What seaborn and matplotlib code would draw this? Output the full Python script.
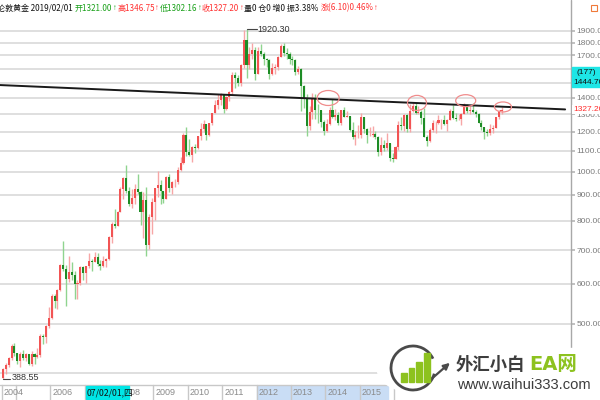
import numpy as np
import pandas as pd
import matplotlib
matplotlib.use("Agg")
import matplotlib.pyplot as plt
import seaborn as sns
from matplotlib.patches import Ellipse, Rectangle, Circle, Arc, FancyArrowPatch
from matplotlib.lines import Line2D
from matplotlib.transforms import IdentityTransform
from matplotlib.ticker import NullLocator

# monthly London gold candles, 2004/08 .. 2019/02
start_month = "2004-08-01"

opens = [
    391.4, 407.3, 415.7, 428.4, 452.5,                                       # 2004
    438.0, 422.2, 435.5, 428.6, 435.8, 417.2, 435.5, 429.8, 433.2, 473.2, 470.8, 495.7,  # 2005
    513.0, 568.8, 556.0, 582.5, 654.5, 643.0, 614.5, 633.0, 624.0, 599.0, 603.0, 647.0,  # 2006
    632, 650, 665, 663, 678, 658, 650, 666, 673, 743, 789, 783,              # 2007
    834, 923, 971, 916, 865, 886, 926, 912, 833, 880, 718, 814,              # 2008
    870, 927, 942, 916, 884, 979, 927, 954, 955, 1008, 1040, 1181,           # 2009
    1096, 1081, 1118, 1113, 1179, 1213, 1244, 1181, 1248, 1307, 1358, 1386,  # 2010
    1421, 1332, 1409, 1439, 1556, 1536, 1501, 1628, 1826, 1624, 1714, 1746,  # 2011
    1563, 1737, 1710, 1669, 1664, 1560, 1605, 1615, 1687, 1772, 1719, 1712,  # 2012
    1675, 1663, 1578, 1596, 1476, 1393, 1234, 1312, 1396, 1327, 1323, 1253,  # 2013
    1202, 1244, 1326, 1284, 1295, 1250, 1327, 1282, 1287, 1210, 1172, 1183,  # 2014
    1184, 1284, 1213, 1183, 1183, 1190, 1172, 1095, 1132, 1115, 1142, 1065,  # 2015
    1061, 1118, 1238, 1233, 1293, 1214, 1321, 1351, 1309, 1316, 1277, 1173,  # 2016
    1151, 1211, 1249, 1249, 1268, 1268, 1242, 1269, 1322, 1280, 1271, 1275,  # 2017
    1303, 1345, 1318, 1325, 1315, 1299, 1252, 1224, 1201, 1192, 1215, 1222,  # 2018
    1282, 1321.00,                                                           # 2019
]
highs = [
    409.7, 419.0, 430.9, 456.9, 458.0,
    438.5, 440.4, 444.3, 438.0, 436.0, 443.1, 437.9, 447.2, 476.7, 478.8, 497.0, 541.0,
    572.0, 574.2, 587.0, 656.0, 730.0, 653.0, 683.0, 663.0, 636.0, 610.0, 650.0, 652.0,
    652, 691, 673, 693, 692, 670, 682, 675, 747, 795, 845, 838,
    932, 975, 1033, 933, 925, 945, 988, 918, 913, 935, 825, 888,
    930, 1006, 965, 918, 980, 990, 961, 968, 1024, 1070, 1195, 1227,
    1162, 1127, 1136, 1180, 1249, 1265, 1245, 1250, 1308, 1388, 1425, 1432,
    1424, 1411, 1447, 1575, 1577, 1552, 1633, 1912, 1920.30, 1763, 1802, 1764,
    1764, 1791, 1725, 1677, 1669, 1641, 1634, 1692, 1790, 1796, 1755, 1723,
    1695, 1675, 1617, 1606, 1488, 1424, 1348, 1434, 1424, 1361, 1323, 1267,
    1270, 1345, 1392, 1331, 1315, 1326, 1345, 1322, 1290, 1255, 1207, 1239,
    1307, 1286, 1219, 1224, 1232, 1205, 1175, 1170, 1157, 1191, 1142, 1088,
    1125, 1263, 1283, 1304, 1304, 1362, 1375, 1367, 1352, 1325, 1338, 1181,
    1220, 1264, 1263, 1295, 1272, 1296, 1274, 1331, 1357, 1306, 1299, 1306,
    1366, 1361, 1356, 1366, 1326, 1309, 1265, 1225, 1214, 1243, 1237, 1284,
    1326, 1346.75,
]
lows = [
    388.55, 398.5, 411.7, 424.4, 431.2,
    416.3, 410.3, 423.9, 421.9, 414.5, 413.2, 416.6, 429.0, 431.1, 456.6, 458.3, 489.9,
    512.0, 538.0, 535.0, 580.0, 636.0, 543.0, 605.0, 610.0, 561.0, 560.0, 596.0, 610.0,
    604, 645, 637, 662, 651, 640, 647, 648, 670, 722, 775, 780,
    834, 882, 910, 857, 849, 863, 906, 786, 740, 681, 705, 752,
    802, 891, 865, 866, 883, 913, 904, 933, 945, 1003, 1038, 1075,
    1073, 1044, 1088, 1112, 1158, 1201, 1157, 1177, 1240, 1305, 1330, 1359,
    1309, 1325, 1380, 1423, 1462, 1478, 1478, 1603, 1535, 1600, 1671, 1523,
    1561, 1693, 1627, 1613, 1527, 1556, 1563, 1590, 1685, 1694, 1672, 1635,
    1625, 1555, 1565, 1321, 1338, 1180, 1208, 1270, 1272, 1251, 1227, 1182,
    1200, 1239, 1277, 1268, 1240, 1240, 1281, 1281, 1206, 1161, 1131, 1168,
    1167, 1191, 1142, 1175, 1170, 1162, 1077, 1080, 1098, 1106, 1052, 1046,
    1060, 1107, 1208, 1207, 1200, 1200, 1311, 1301, 1304, 1241, 1171, 1123,
    1146, 1200, 1195, 1243, 1214, 1236, 1205, 1267, 1272, 1261, 1264, 1236,
    1302, 1307, 1303, 1310, 1282, 1251, 1211, 1160, 1180, 1183, 1196, 1221,
    1275, 1302.16,
]
closes = [
    407.3, 415.7, 428.4, 452.5, 438.0,
    422.2, 435.5, 428.6, 435.8, 417.2, 435.5, 429.8, 433.2, 473.2, 470.8, 495.7, 513.0,
    568.8, 556.0, 582.5, 654.5, 643.0, 614.5, 633.0, 624.0, 599.0, 603.0, 647.0, 632.0,
    650, 665, 663, 678, 658, 650, 666, 673, 743, 789, 783, 834,
    923, 971, 916, 865, 886, 926, 912, 833, 880, 718, 814, 870,
    927, 942, 916, 884, 979, 927, 954, 955, 1008, 1040, 1181, 1096,
    1081, 1118, 1113, 1179, 1213, 1244, 1181, 1248, 1307, 1358, 1386, 1421,
    1332, 1409, 1439, 1556, 1536, 1501, 1628, 1826, 1624, 1714, 1746, 1563,
    1737, 1710, 1669, 1664, 1560, 1605, 1615, 1687, 1772, 1719, 1712, 1675,
    1663, 1578, 1596, 1476, 1393, 1234, 1312, 1396, 1327, 1323, 1253, 1202,
    1244, 1326, 1284, 1295, 1250, 1327, 1282, 1287, 1210, 1172, 1183, 1184,
    1284, 1213, 1183, 1183, 1190, 1172, 1095, 1132, 1115, 1142, 1065, 1061,
    1118, 1238, 1233, 1293, 1214, 1321, 1351, 1309, 1316, 1277, 1173, 1151,
    1211, 1249, 1249, 1268, 1268, 1242, 1269, 1322, 1280, 1271, 1275, 1303,
    1345, 1318, 1325, 1315, 1299, 1252, 1224, 1201, 1192, 1215, 1222, 1282,
    1321.10, 1327.20,
]

# hand drawn resistance line and the circled touches
trend_idx = [-1.05, 196.2]
trend_price = [1485, 1329]
touch_idx = [113.5, 144.5, 161.5, 174.5]
touch_price = [1400, 1369, 1383, 1344]

price_ticks = [400, 500, 600, 700, 800, 900, 1000, 1100, 1200, 1300, 1400, 1500, 1600, 1700, 1800, 1900]
hidden_ticks = [400, 1500, 1600]   # covered by the info box / watermark in the screenshot
y_limits = [380.4, 2015.6]
label_years = [2004, 2006, 2008, 2009, 2010, 2011, 2012, 2013, 2014, 2015]
cursor_label = "07/02/01,四"
box_count = "(177)"
box_value = "1444.70"

df = pd.DataFrame({"open": opens, "high": highs, "low": lows, "close": closes})
df["date"] = pd.date_range(start_month, periods=len(df), freq="MS")
df["i"] = np.arange(len(df))
up = df["close"] >= df["open"]

sns.set_theme(style="white")
plt.rcParams["font.family"] = ["Noto Sans CJK SC", "DejaVu Sans"]

W, H = 600, 400
fig = plt.figure(figsize=(6, 4), dpi=100)
fig.patch.set_facecolor("white")

def fx(px):
    return px / W

def fy(py):
    return 1 - py / H

ax = fig.add_axes([0, fy(384), fx(571), (384 - 18) / H])
ax.set_facecolor("white")
ax.set_yscale("log")

RED, RED_W = "#f25454", "#f7a6a6"
GREEN, GREEN_W = "#1d8c25", "#8fd48f"

# candles
ax.vlines(df.i[up], df.low[up], df.high[up], color=RED_W, lw=1, zorder=2)
ax.vlines(df.i[~up], df.low[~up], df.high[~up], color=GREEN_W, lw=1, zorder=2)
ax.bar(df.i[up], (df.close - df.open)[up], bottom=df.open[up], width=0.72,
       color=RED, linewidth=0, zorder=3)
ax.bar(df.i[~up], (df.close - df.open)[~up], bottom=df.open[~up], width=0.72,
       color=GREEN, linewidth=0, zorder=3)

# trend line
sns.lineplot(x=trend_idx, y=trend_price, ax=ax, color="#1a1a1a", lw=1.4,
             estimator=None, sort=False, zorder=4)

ax.set_xlim(-1.047, 198.25)
ax.set_ylim(*y_limits)
ax.set_xticks([])
ax.yaxis.tick_right()
ax.set_yticks(price_ticks)
ax.set_yticklabels(["" if v in hidden_ticks else f"{v:.2f}" for v in price_ticks])
ax.yaxis.set_minor_locator(NullLocator())
ax.tick_params(axis="y", length=3, color="#b8b8b8", labelsize=6.0,
               labelcolor="#7a7a7a", pad=1.0, right=True, left=False)
for lbl in ax.get_yticklabels():
    lbl.set_fontfamily("Liberation Sans")
ax.grid(axis="y", color="#d9d9d9", lw=1.2)
ax.grid(axis="x", visible=False)
ax.set_axisbelow(True)
for s in ax.spines.values():
    s.set_visible(False)

# extreme labels
imax = int(df.high.idxmax())
hmax = df.high[imax]
ax.plot([imax, imax + 3.6], [hmax, hmax], color="#444444", lw=0.8, zorder=5)
ax.text(imax + 3.9, hmax * 0.995, f"{hmax:.2f}", va="center", ha="left",
        fontsize=6.5, color="#333333", family="Liberation Sans")
imin = int(df.low.idxmin())
lmin = df.low[imin]
ax.plot([imin, imin + 2.6], [lmin, lmin], color="#444444", lw=0.8, zorder=5)
ax.text(imin + 3.0, lmin * 1.01, f"{lmin:.2f}", va="center", ha="left",
        fontsize=6.5, color="#333333", family="Liberation Sans")

# circled touches, drawn in pixels so they stay round on the log axis
ell_w = [22, 19, 20, 17]
ell_h = [15, 15, 12, 10]
for k in range(len(touch_idx)):
    cx, cy = ax.transData.transform((touch_idx[k], touch_price[k]))
    fig.add_artist(Ellipse((cx, cy), ell_w[k], ell_h[k], transform=IdentityTransform(),
                           fill=False, ec="#f08c8c", lw=0.9, zorder=6))

# right axis line
fig.add_artist(Line2D([fx(571), fx(571)], [fy(0), fy(385)], color="#a8a8a8", lw=1, zorder=3))

# last price label and info box
_, ly = ax.transData.transform((0, df.close.iloc[-1]))
fig.text(fx(573), ly / H, f"{df.close.iloc[-1]:.2f}", color="#ff2b2b", fontsize=6.0,
         va="center", ha="left", family="Liberation Sans", zorder=8,
         bbox=dict(boxstyle="square,pad=0.1", fc="white", ec="none"))
fig.add_artist(Rectangle((fx(572), fy(87)), fx(28), 20 / H, color="#1ee6e6", zorder=7))
fig.text(fx(586), fy(72.5), box_count, fontsize=6, ha="center", va="center",
         color="#111111", family="Liberation Sans", zorder=8)
fig.text(fx(573), fy(82), box_value, fontsize=6, ha="left", va="center",
         color="#111111", family="Liberation Sans", zorder=8)

# header line: text part, colour, is-arrow
last = df.iloc[-1]
prev_close = df.close.iloc[-2]
chg = last.close - prev_close
header_parts = [
    (f"伦敦黄金 {last.date:%Y/%m/%d} ", "#111111", False),
    (f"开{last.open:.2f}", "#18a018", False), ("↑", "#18a018", True),
    (f"高{last.high:.2f}", "#ff3030", False), ("↑", "#ff3030", True),
    (f"低{last.low:.2f}", "#18a018", False), ("↑", "#18a018", True),
    (f"收{last.close:.2f}", "#ff3030", False), ("↑", "#ff3030", True),
    (f"量0 仓0 增0 振{(last.high - last.low) / prev_close * 100:.2f}% ", "#111111", False),
    (f"涨({chg:.2f}){chg / prev_close * 100:.2f}%", "#ff3030", False), ("↑", "#ff3030", True),
]
renderer = fig.canvas.get_renderer()
hx = -3
for txt, col, arrow in header_parts:
    if arrow:
        t = fig.text(fx(hx), fy(8), txt, color=col, fontsize=5.5, ha="left", va="center",
                     family=["Liberation Sans", "DejaVu Sans"])
    else:
        t = fig.text(fx(hx), fy(8), txt, color=col, fontsize=5.8, ha="left", va="center")
    hx = t.get_window_extent(renderer).x1 + 0.5
fig.add_artist(Rectangle((fx(591), fy(11)), fx(6), 6 / H, fill=False, ec="#f07a3a", lw=0.8))

# bottom date strip
fig.add_artist(Line2D([0, fx(571)], [fy(385), fy(385)], color="#c8c8c8", lw=1, zorder=2))
jan = df[df.date.dt.month == 1]
seps = {df.date.iloc[0].year: ax.transData.transform((-0.5, 1000))[0]}
for _, r in jan.iterrows():
    seps[r.date.year] = ax.transData.transform((r.i - 0.5, 1000))[0]
fig.add_artist(Rectangle((fx(seps[2012]), 0), fx(388 - seps[2012]), 14.5 / H,
                         color="#c9ddf5", zorder=1))
for yr, sx in seps.items():
    fig.add_artist(Line2D([fx(sx), fx(sx)], [0, fy(385)], color="#c8c8c8", lw=1, zorder=2))
    if yr in label_years:
        fig.text(fx(sx + 2), fy(392.5), str(yr), fontsize=6.5, color="#8a8a8a",
                 ha="left", va="center", family="Liberation Sans", zorder=3)
cx0 = seps[2007] + 1
fig.add_artist(Rectangle((fx(cx0), fy(399)), fx(43), 13 / H, color="#00e6e6", zorder=4))
fig.text(fx(cx0 + 1), fy(392.5), cursor_label, fontsize=6.3, color="#111111",
         ha="left", va="center", zorder=5)

# watermark
fig.add_artist(Rectangle((fx(398), 0), fx(202), 52 / H, color="white", zorder=9))
fig.add_artist(Circle((fx(413), fy(368)), 24 / H, color="white", zorder=9,
                      transform=fig.transFigure))
fig.add_artist(Arc((413, H - 368), 44, 44, theta1=25, theta2=345, transform=IdentityTransform(),
                   color="#4a4a4a", lw=2, zorder=10))
fig.add_artist(FancyArrowPatch((428, H - 382), (452, H - 361), transform=IdentityTransform(),
                               arrowstyle="-|>", mutation_scale=9, color="#4a4a4a", lw=1.6, zorder=10))
for bx, top in zip([401, 408.5, 416, 424], [373, 368, 362, 353]):
    fig.add_artist(Rectangle((bx, H - 382), 5.5, 382 - top, transform=IdentityTransform(),
                             color="#8dc21f", zorder=10))
fig.text(fx(456), fy(365), "外汇小白", fontsize=12.5, fontweight="bold", color="#3d3d3d",
         ha="left", va="center", zorder=11)
fig.text(fx(529), fy(365), "EA网", fontsize=14, fontweight="bold", color="#8dc21f",
         ha="left", va="center", family=["DejaVu Sans", "Noto Sans CJK SC"], zorder=11)
fig.text(fx(457), fy(385), "www.waihui333.com", fontsize=10.6, color="#3d3d3d",
         ha="left", va="center", family="Liberation Sans", zorder=11)

fig.savefig("out.png", dpi=100, facecolor="white")
